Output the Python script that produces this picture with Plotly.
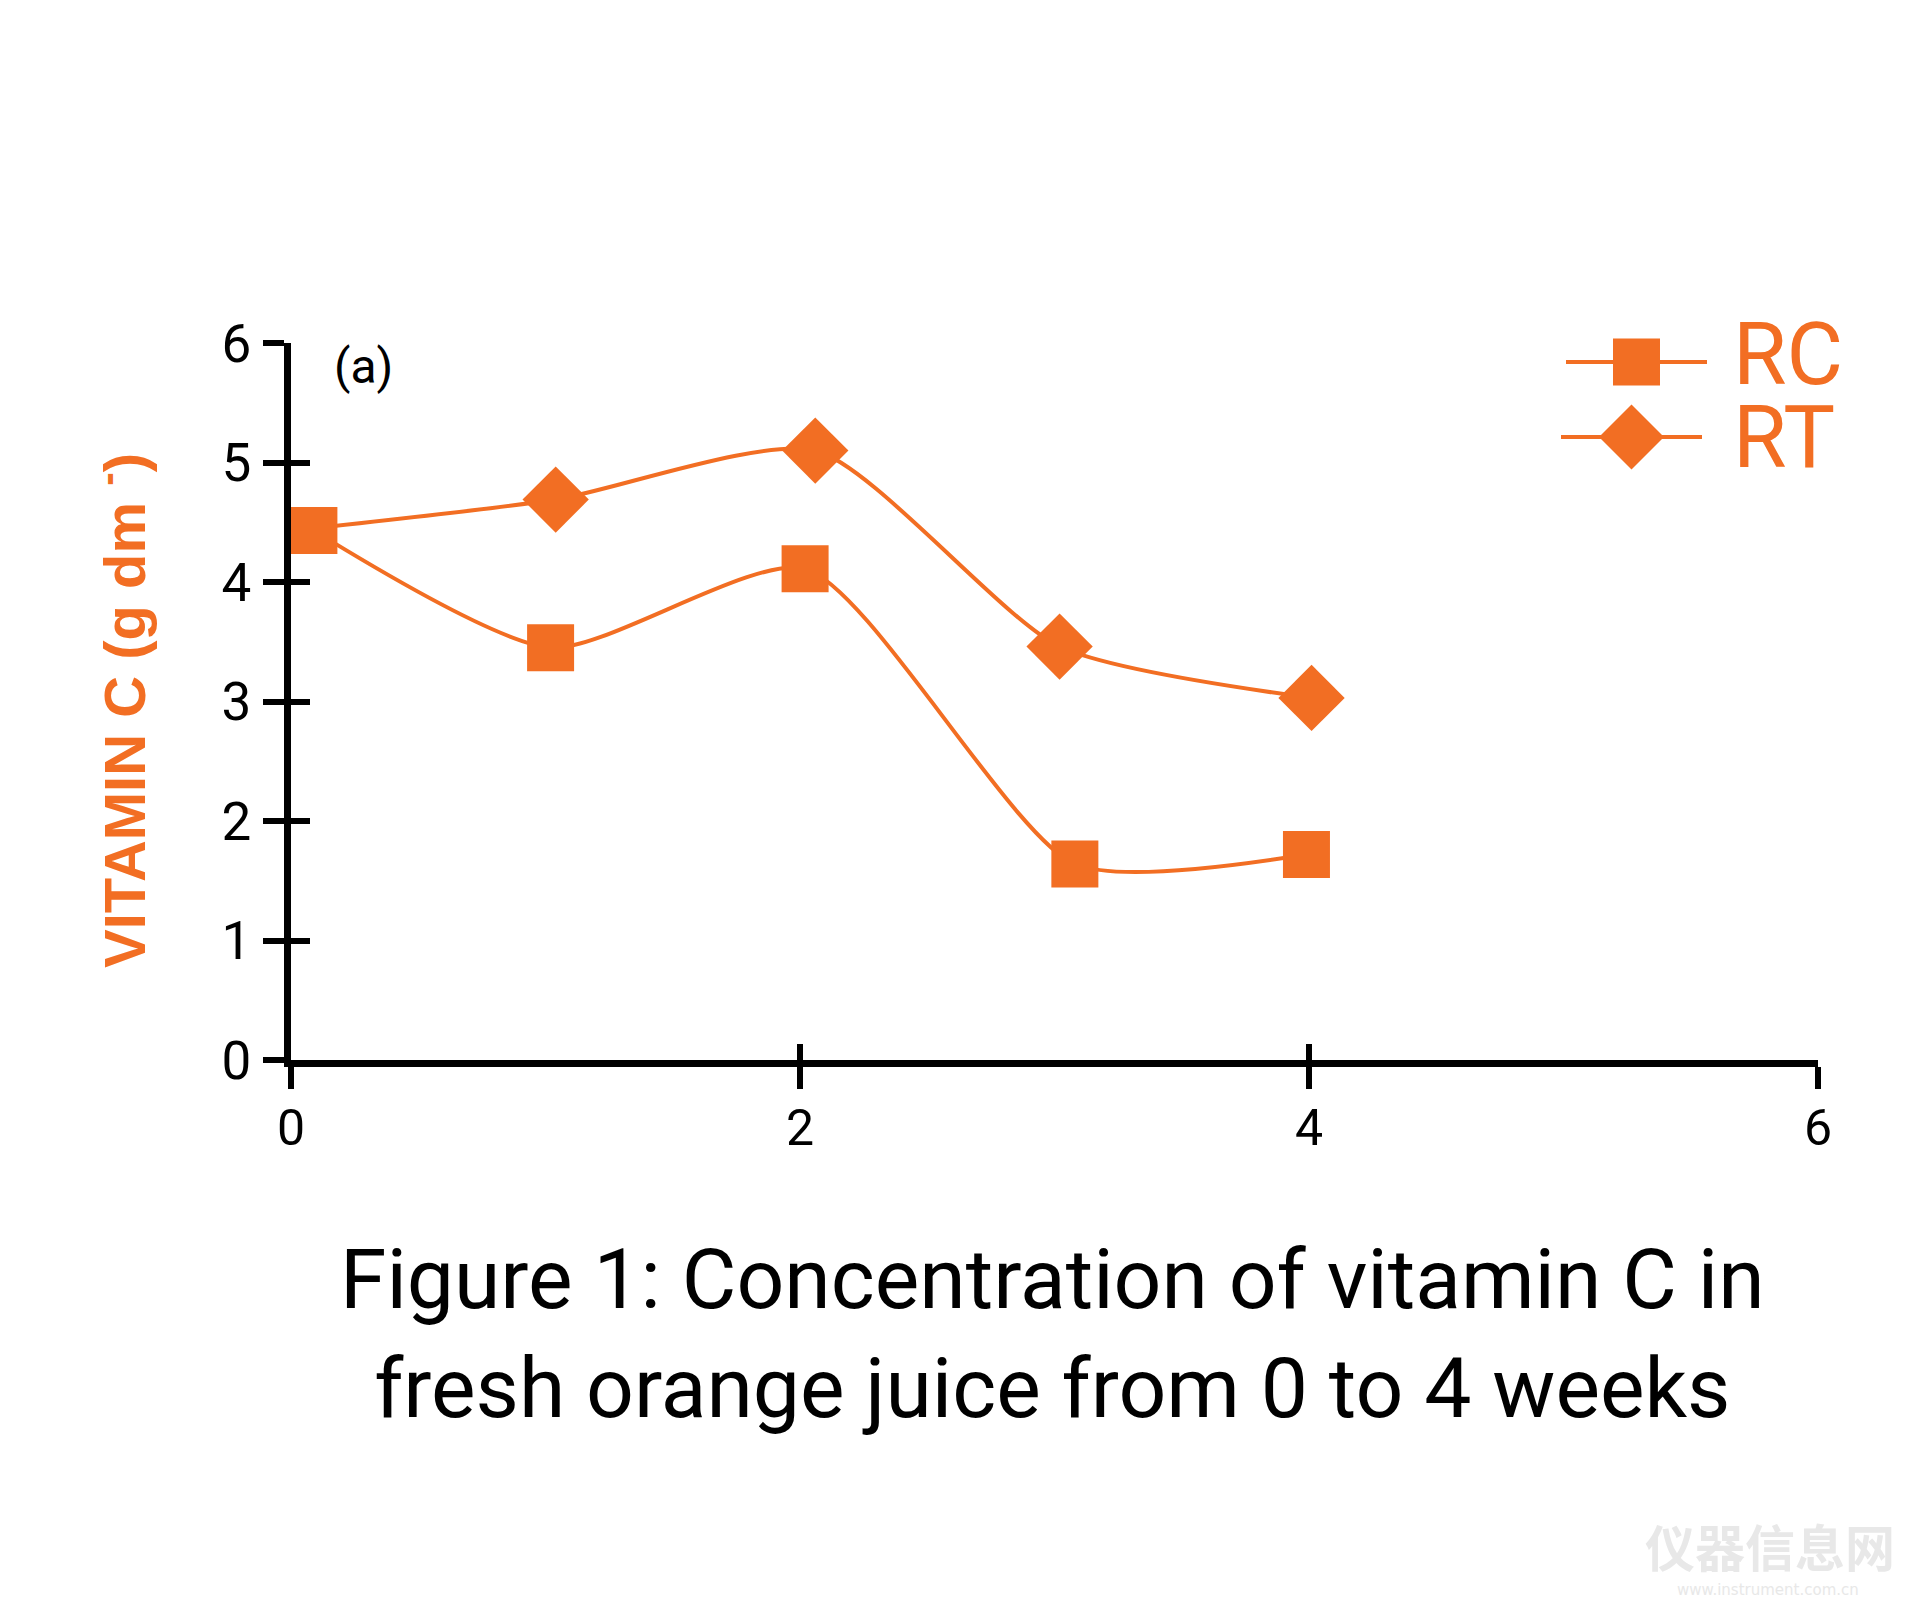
import plotly.graph_objects as go

# ---------------- data ----------------
weeks_rc = [0.09, 1.02, 2.02, 3.08, 3.99]
vitc_rc = [4.43, 3.45, 4.11, 1.64, 1.72]
weeks_rt = [0.09, 1.04, 2.06, 3.02, 4.01]
vitc_rt = [4.45, 4.69, 5.10, 3.46, 3.03]
x_tick_vals = [0, 2, 4, 6]
y_tick_vals = [0, 1, 2, 3, 4, 5, 6]
series_names = ["RC", "RT"]
panel_label = "(a)"
y_title = "VITAMIN C (g dm <sup>-</sup>)"
fig_title = "Figure 1: Concentration of vitamin C in<br>fresh orange juice from 0 to 4 weeks"

# ---------------- styles / layout ----------------
ORANGE = "#F26E23"
W, H = 1920, 1621
L, R, T, B = 291, 102, 343, 561
PW, PH = W - L - R, H - T - B
NUM_FONT = "Roboto"
SMOOTH = 0.65


def px_x(px):
    return (px - L) / PW


def px_y(py):
    return (H - B - py) / PH


fig = go.Figure()

# data traces (RT's first diamond sits hidden under the shared RC square)
rt_sizes = [0] + [51] * (len(weeks_rt) - 1)
fig.add_trace(go.Scatter(
    x=weeks_rt, y=vitc_rt, name=series_names[1], mode="lines+markers",
    line=dict(color=ORANGE, width=4, shape="spline", smoothing=SMOOTH),
    marker=dict(symbol="diamond", size=rt_sizes, color=ORANGE, opacity=1, line=dict(width=0)),
    cliponaxis=False, showlegend=False))
fig.add_trace(go.Scatter(
    x=weeks_rc, y=vitc_rc, name=series_names[0], mode="lines+markers",
    line=dict(color=ORANGE, width=4, shape="spline", smoothing=SMOOTH),
    marker=dict(symbol="square", size=47, color=ORANGE, opacity=1, line=dict(width=0)),
    cliponaxis=False, showlegend=False))

# overlay axes giving the inner half of the crossing ticks (and the x labels)
fig.add_trace(go.Scatter(x=[None], y=[None], xaxis="x2", yaxis="y2",
                         showlegend=False, hoverinfo="skip"))

# custom legend glyphs on a pixel-mapped auxiliary axis
legend_rows = [
    (series_names[0], "square", 47, 1566, 1707, 362, 354),
    (series_names[1], "diamond", 50, 1561, 1702, 437, 437),
]
for name, sym, msize, x0, x1, yy, ty in legend_rows:
    fig.add_trace(go.Scatter(
        x=[x0, x1], y=[yy, yy], xaxis="x3", yaxis="y3",
        mode="lines", line=dict(color=ORANGE, width=4),
        showlegend=False, hoverinfo="skip", cliponaxis=False))
    fig.add_trace(go.Scatter(
        x=[(x0 + x1) / 2], y=[yy], xaxis="x3", yaxis="y3",
        mode="markers",
        marker=dict(symbol=sym, size=msize, color=ORANGE, opacity=1, line=dict(width=0)),
        showlegend=False, hoverinfo="skip", cliponaxis=False))

annotations = []
for name, sym, msize, x0, x1, yy, ty in legend_rows:
    annotations.append(dict(
        x=px_x(1731), y=px_y(ty), xref="paper", yref="paper", text=name,
        showarrow=False, xanchor="left", yanchor="middle", height=80,
        font=dict(family=NUM_FONT, size=87, color=ORANGE)))

annotations.append(dict(
    x=px_x(332), y=px_y(366), xref="paper", yref="paper", text=panel_label,
    showarrow=False, xanchor="left", yanchor="middle",
    font=dict(family=NUM_FONT, size=48, color="black")))

annotations.append(dict(
    x=px_x(120), y=px_y(711), xref="paper", yref="paper", text="<b>" + y_title + "</b>",
    showarrow=False, xanchor="center", yanchor="middle", textangle=-90,
    font=dict(family="Liberation Sans", size=58, color=ORANGE)))

annotations.append(dict(
    x=px_x(1052), y=px_y(1334), xref="paper", yref="paper", text=fig_title,
    showarrow=False, xanchor="center", yanchor="middle", align="center",
    font=dict(family=NUM_FONT, size=84, color="black")))

# faint watermark
annotations.append(dict(
    x=px_x(1770), y=px_y(1545), xref="paper", yref="paper", text="<b>仪器信息网</b>",
    showarrow=False, xanchor="center", yanchor="middle",
    font=dict(family="Noto Sans CJK SC", size=50, color="#e8e8e8")))
annotations.append(dict(
    x=px_x(1768), y=px_y(1590), xref="paper", yref="paper", text="www.instrument.com.cn",
    showarrow=False, xanchor="center", yanchor="middle",
    font=dict(family="DejaVu Sans", size=15, color="#e8e8e8")))

tick_font = dict(family=NUM_FONT, size=53, color="black")

fig.update_layout(
    width=W, height=H, paper_bgcolor="white", plot_bgcolor="white",
    margin=dict(l=L, r=R, t=T, b=B, pad=0),
    annotations=annotations,
    xaxis=dict(range=[0, 6], tickvals=x_tick_vals, showticklabels=False,
               ticks="outside", ticklen=22, tickwidth=6, tickcolor="black",
               showline=True, linewidth=7, linecolor="black", showgrid=False,
               zeroline=False),
    yaxis=dict(range=[0, 6], tickvals=y_tick_vals, ticktext=[str(v) for v in y_tick_vals],
               ticks="outside", ticklen=21, tickwidth=6, tickcolor="black",
               showline=True, linewidth=7, linecolor="black", showgrid=False,
               zeroline=False, tickfont=tick_font, ticklabelstandoff=1),
    xaxis2=dict(range=[0, 6], tickvals=x_tick_vals, ticktext=[str(v) for v in x_tick_vals],
                overlaying="x", anchor="y2",
                ticks="inside", ticklen=16, tickwidth=6, tickcolor="black",
                showticklabels=True, tickfont=dict(family=NUM_FONT, size=50, color="black"),
                ticklabelstandoff=34,
                showline=False, showgrid=False, zeroline=False),
    yaxis2=dict(range=[0, 6], tickvals=y_tick_vals, overlaying="y", anchor="x2",
                ticks="inside", ticklen=19, tickwidth=6, tickcolor="black",
                showticklabels=False, showline=False, showgrid=False, zeroline=False),
    xaxis3=dict(range=[L, W - R], overlaying="x", anchor="y3", visible=False),
    yaxis3=dict(range=[H - B, T], overlaying="y", anchor="x3", visible=False),
)

fig.write_html("out.html", config={"displayModeBar": False},
               post_script="document.body.style.margin='0';")
